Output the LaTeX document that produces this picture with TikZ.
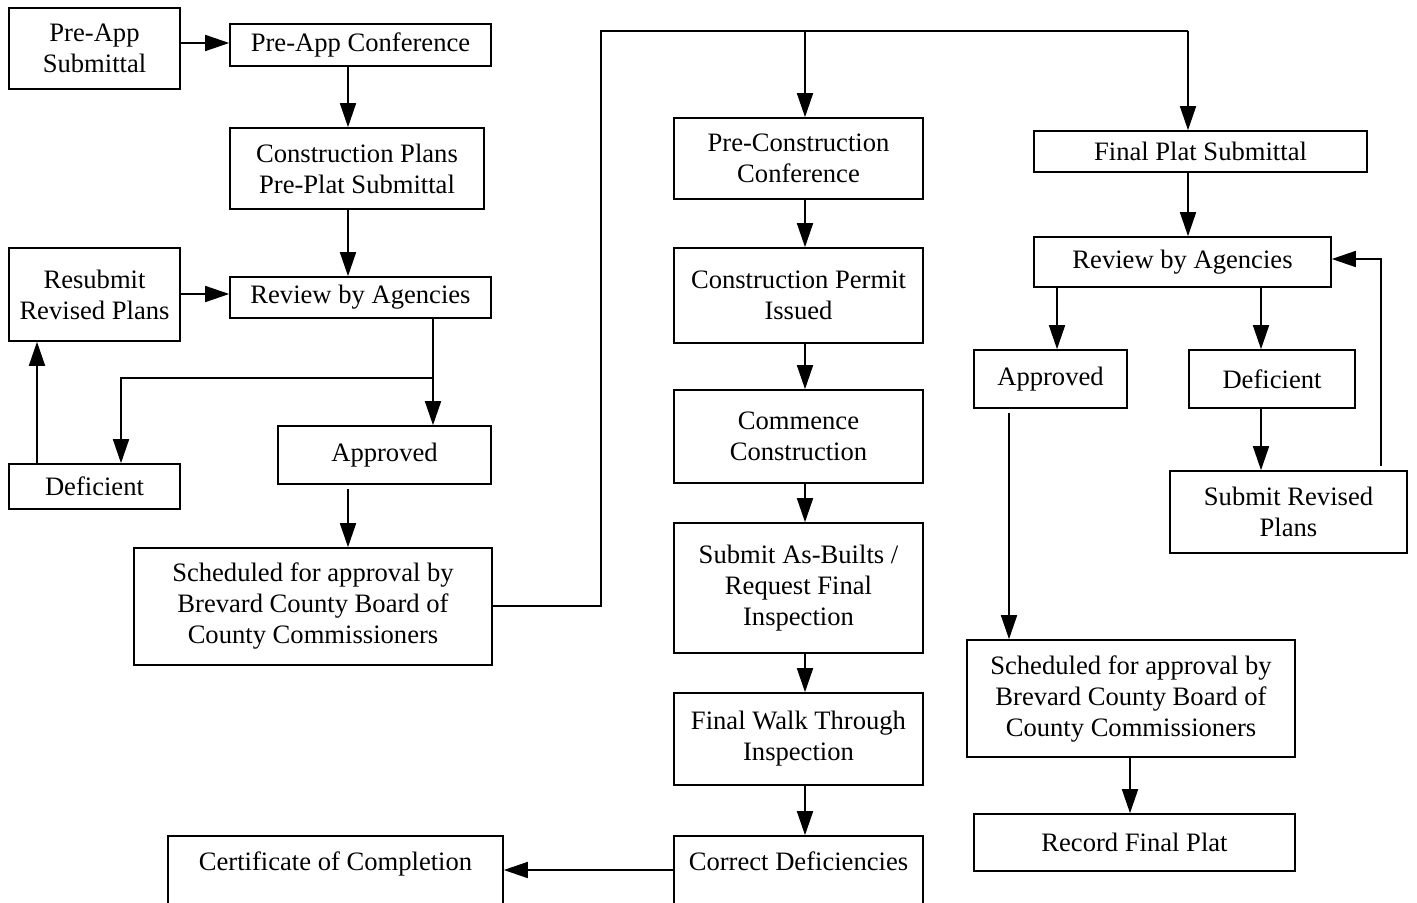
\documentclass[tikz,border=0pt]{standalone}
\usepackage{fontspec}
\setmainfont{Liberation Serif}
\usetikzlibrary{arrows.meta}

\begin{document}
\begin{tikzpicture}[x=0.5pt, y=-0.5pt,
  box/.style={draw, line width=0.8pt, align=center,
    font=\fontsize{13.3}{15.5}\selectfont, inner sep=2pt},
  flow/.style={->, line width=0.8pt},
  >={Triangle[length=12pt,width=8pt]}]
\clip (0,0) rectangle (1417,903);
% pre-plat side
\node[box, minimum width=85.5pt, minimum height=40.5pt] (presub) at (94.5,48.5) {Pre-App\\Submittal};
\node[box, minimum width=130.5pt, minimum height=21pt] (preconf) at (360.5,45) {Pre-App Conference};
\node[box, minimum width=127pt, minimum height=40.5pt] (plans) at (357,168.5) {Construction Plans\\Pre-Plat Submittal};
\node[box, minimum width=130.5pt, minimum height=20.5pt] (reviewL) at (360.5,297.5) {Review by Agencies};
\node[box, minimum width=85.5pt, minimum height=46.5pt] (resub) at (94.5,294.5) {Resubmit\\Revised Plans};
\node[box, minimum width=85.5pt, minimum height=22.5pt] (defL) at (94.5,486.5) {Deficient};
\node[box, minimum width=106.5pt, minimum height=29pt] (apprL) at (384.5,455) {Approved};
\node[box, minimum width=179pt, minimum height=58.5pt] (schedL) at (313,606.5) {Scheduled for approval by\\Brevard County Board of\\County Commissioners};
\node[box, minimum width=167.5pt, minimum height=40.5pt] (cert) at (335.5,876.5) {Certificate of Completion\\\mbox{}};
% construction column
\node[box, minimum width=124.5pt, minimum height=40.5pt] (precon) at (798.5,158.5) {Pre-Construction\\Conference};
\node[box, minimum width=124.5pt, minimum height=47.5pt] (permit) at (798.5,295.5) {Construction Permit\\Issued};
\node[box, minimum width=124.5pt, minimum height=46.5pt] (commence) at (798.5,436.5) {Commence\\Construction};
\node[box, minimum width=124.5pt, minimum height=65pt] (asbuilt) at (798.5,588) {Submit As-Builts /\\Request Final\\Inspection};
\node[box, minimum width=124.5pt, minimum height=46pt] (walk) at (798.5,739) {Final Walk Through\\Inspection};
\node[box, minimum width=124.5pt, minimum height=40.5pt] (correct) at (798.5,876.5) {Correct Deficiencies\\\mbox{}};
% final plat side
\node[box, minimum width=166.5pt, minimum height=20.5pt] (finalplat) at (1200.5,151.5) {Final Plat Submittal};
\node[box, minimum width=148.5pt, minimum height=25pt] (reviewR) at (1182.5,262) {Review by Agencies};
\node[box, minimum width=76.5pt, minimum height=29pt] (apprR) at (1050.5,379) {Approved};
\node[box, minimum width=83pt, minimum height=29pt] (defR) at (1272,379) {Deficient};
\node[box, minimum width=118.5pt, minimum height=41pt] (subrev) at (1288.5,512) {Submit Revised\\Plans};
\node[box, minimum width=164pt, minimum height=58.5pt] (schedR) at (1131,698.5) {Scheduled for approval by\\Brevard County Board of\\County Commissioners};
\node[box, minimum width=160.5pt, minimum height=28.5pt] (record) at (1134.5,842.5) {Record Final Plat};

% routing points
\coordinate (a1) at (348,0);
\coordinate (a2) at (433,0);
\coordinate (a3) at (121,378);
\coordinate (a4) at (37,0);
\coordinate (r1) at (0,43);
\coordinate (r2) at (0,294);
\coordinate (r3) at (0,870);
\coordinate (b1) at (601,606);
\coordinate (b2) at (601,31);
\coordinate (b3) at (805,31);
\coordinate (b4) at (1188,31);
\coordinate (c1) at (1057,0);
\coordinate (c2) at (1261,0);
\coordinate (c3) at (1381,259);
\coordinate (c4) at (1009,0);
\coordinate (c5) at (1130,0);

\draw[flow] (presub.east |- r1) -- (preconf.west |- r1);
\draw[flow] (preconf.south -| a1) -- (plans.north -| a1);
\draw[flow] (plans.south -| a1) -- (reviewL.north -| a1);
\draw[flow] (resub.east |- r2) -- (reviewL.west |- r2);
\draw[flow] (reviewL.south -| a2) -- (apprL.north -| a2);
\draw[flow] (a2 |- a3) -| (defL.north -| a3);
\draw[flow] (defL.north -| a4) -- (resub.south -| a4);
\draw[flow, shorten <=2pt] (apprL.south -| a1) -- (schedL.north -| a1);
\draw[line width=0.8pt] (schedL.east |- b1) -- (b1) -- (b2) -- (b4);
\draw[flow] (b3) -- (precon.north -| b3);
\draw[flow] (b4) -- (finalplat.north -| b4);
\foreach \a/\b in {precon/permit, permit/commence, commence/asbuilt, asbuilt/walk, walk/correct}
  \draw[flow] (\a.south -| b3) -- (\b.north -| b3);
\draw[flow] (correct.west |- r3) -- (cert.east |- r3);
\draw[flow] (finalplat.south -| b4) -- (reviewR.north -| b4);
\draw[flow] (reviewR.south -| c1) -- (apprR.north -| c1);
\draw[flow] (reviewR.south -| c2) -- (defR.north -| c2);
\draw[flow] (defR.south -| c2) -- (subrev.north -| c2);
\draw[flow, shorten <=2pt] (subrev.north -| c3) |- (reviewR.east |- c3);
\draw[flow, shorten <=2pt] (apprR.south -| c4) -- (schedR.north -| c4);
\draw[flow] (schedR.south -| c5) -- (record.north -| c5);
\end{tikzpicture}
\end{document}
